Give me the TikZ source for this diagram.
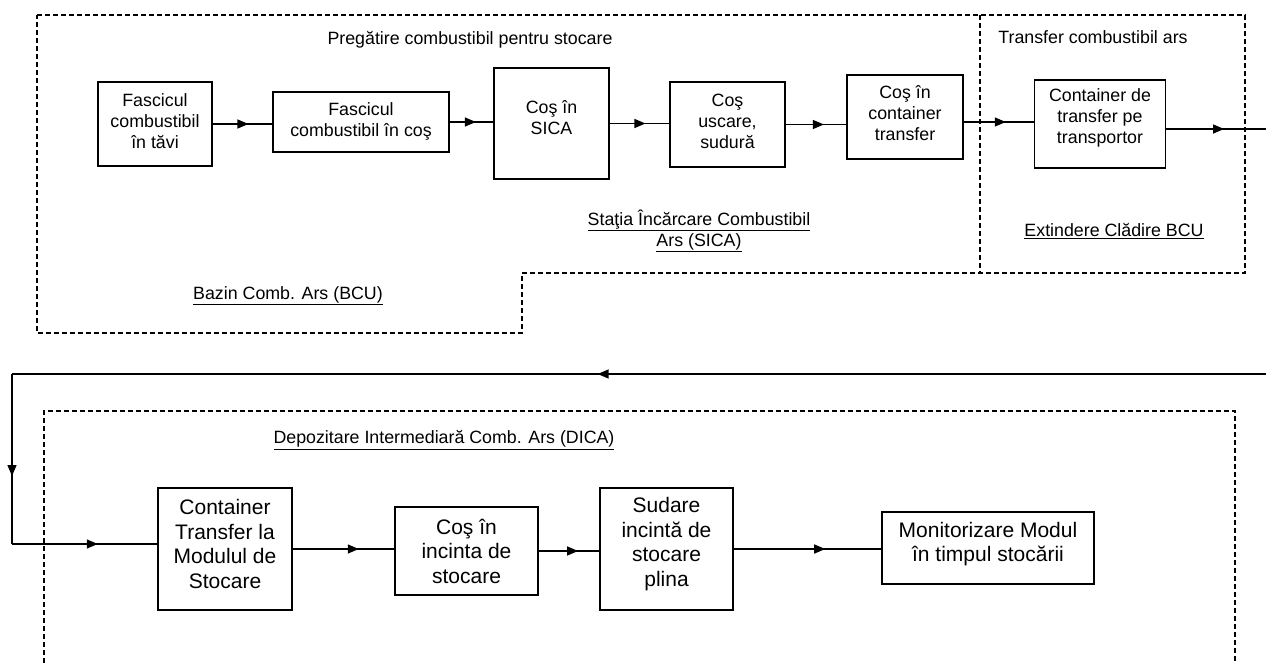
\documentclass[tikz,border=0pt]{standalone}
\usepackage{fontspec}
\setmainfont{Liberation Sans}
\usetikzlibrary{arrows.meta,decorations.markings}
\tikzset{
  box/.style={draw, line width=1.3pt, inner sep=0pt},
  txt/.style={inner sep=0pt, align=center, font=\fontsize{17.8}{21}\selectfont},
  bigtxt/.style={inner sep=0pt, align=center, font=\fontsize{21}{24.5}\selectfont},
  zone/.style={draw, line width=1.1pt, dash pattern=on 5pt off 3pt},
  lbl/.style={inner sep=0pt, align=center, font=\fontsize{17.8}{21}\selectfont},
  flow/.style={line width=1.3pt, postaction={decorate}, decoration={markings, mark=at position #1 with {\arrow{Triangle[length=11pt,width=9pt]}}}},
  flow/.default=0.6
}
\begin{document}
\begin{tikzpicture}[x=1pt,y=-1pt]
\useasboundingbox (0,0) rectangle (1266,663);
% zones
\draw[zone] (37,15) -- (1245,15) -- (1245,273) -- (522,273) -- (522,333) -- (37,333) -- cycle;
\draw[zone] (980,15) -- (980,273);
\draw[zone] (44,663) -- (44,411) -- (1235,411) -- (1235,663);
% labels
\node[lbl] (t1) at (470,40) {Pregătire combustibil pentru stocare};
\node[lbl] (t2) at (1093,37) {Transfer combustibil ars};
\node[lbl] (t3) at (699,231) {\underline{Staţia Încărcare Combustibil}\\\underline{Ars (SICA)}};
\node[lbl] (t4) at (1114,231) {\underline{Extindere Clădire BCU}};
\node[lbl] (t5) at (288,296) {\underline{Bazin Comb. Ars (BCU)}};
\node[lbl] (t6) at (444,440) {\underline{Depozitare Intermediară Comb. Ars (DICA)}};
% top boxes
\node[box, minimum width=114pt, minimum height=84pt] (b1) at (155,124) {};
\node[txt] (b1t) at ([yshift=3pt]b1.center) {Fascicul\\combustibil\\în tăvi};
\node[box, minimum width=176pt, minimum height=60pt] (b2) at (361,122) {};
\node[txt] (b2t) at ([yshift=1pt]b2.center) {Fascicul\\combustibil în coş};
\node[box, minimum width=115pt, minimum height=111pt] (b3) at (551.5,123.5) {};
\node[txt] (b3t) at ([yshift=6pt]b3.center) {Coş în\\SICA};
\node[box, minimum width=115pt, minimum height=85pt] (b4) at (727.5,124.5) {};
\node[txt] (b4t) at ([yshift=3.5pt]b4.center) {Coş\\uscare,\\sudură};
\node[box, minimum width=116pt, minimum height=84pt] (b5) at (905,117) {};
\node[txt] (b5t) at ([yshift=4pt]b5.center) {Coş în\\container\\transfer};
\node[box, minimum width=131pt, minimum height=88pt] (b6) at (1100,124) {};
\node[txt] (b6t) at ([yshift=6pt]b6.center) {Container de\\transfer pe\\transportor};
% bottom boxes
\node[box, minimum width=134pt, minimum height=122pt] (B1) at (225,549) {};
\node[bigtxt] (B1t) at ([yshift=5pt]B1.center) {Container\\Transfer la\\Modulul de\\Stocare};
\node[box, minimum width=143pt, minimum height=88pt] (B2) at (466.5,551) {};
\node[bigtxt] (B2t) at (B2.center) {Coş în\\incinta de\\stocare};
\node[box, minimum width=133pt, minimum height=122pt] (B3) at (666.5,549) {};
\node[bigtxt] (B3t) at ([yshift=5pt]B3.center) {Sudare\\incintă de\\stocare\\plina};
\node[box, minimum width=212pt, minimum height=72pt] (B4) at (988,548) {};
\node[bigtxt] (B4t) at ([yshift=4pt]B4.center) {Monitorizare Modul\\în timpul stocării};
% coordinates
\coordinate (a5) at ([yshift=-5pt]b5.east);
\coordinate (a6) at ([yshift=-5pt]b6.east);
\coordinate (r1) at (1266,129);
\coordinate (r2) at (1266,374);
\coordinate (c1) at (12,374);
\coordinate (c2) at (12,544);
% top arrows
\draw[flow] (b1.east) -- (b2.west |- b1.east);
\draw[flow] (b2.east) -- (b3.west |- b2.east);
\draw[flow] (b3.east) -- (b4.west |- b3.east);
\draw[flow=0.63] (b4.east) -- (b5.west |- b4.east);
\draw[flow] (a5) -- (b6.west |- a5);
\draw[flow=0.58] (a6) -- (r1);
% return
\draw[flow=0.533] (r2) -- (c1);
\draw[flow=0.6] (c1) -- (c2);
\draw[flow=0.59] (c2) -- (B1.west |- c2);
% bottom arrows
\draw[flow=0.65] (B1.east) -- (B2.west |- B1.east);
\draw[flow=0.65] (B2.east) -- (B3.west |- B2.east);
\draw[flow=0.62] (B3.east) -- (B4.west |- B3.east);
\end{tikzpicture}
\end{document}
